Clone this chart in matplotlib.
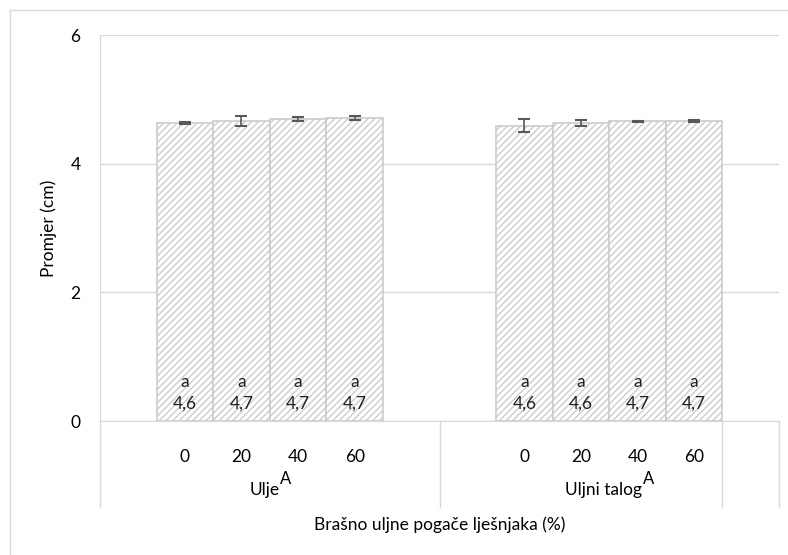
import numpy as np
import matplotlib
matplotlib.use('Agg')
import matplotlib.pyplot as plt
from matplotlib.lines import Line2D

plt.rcParams['font.family'] = ['Lato', 'DejaVu Sans']
plt.rcParams['hatch.linewidth'] = 1.0

# data
doses = ['0', '20', '40', '60']
groups = ['Ulje', 'Uljni talog']
ulje = [4.63, 4.66, 4.69, 4.71]
ulje_err = [0.01, 0.08, 0.03, 0.025]
talog = [4.59, 4.63, 4.66, 4.665]
talog_err = [0.10, 0.045, 0.01, 0.01]
letters_ulje = ['a', 'a', 'a', 'a']
letters_talog = ['a', 'a', 'a', 'a']

grid_c = '#D9D9D9'
edge_c = '#CCCCCC'

fig = plt.figure(figsize=(7.88, 5.55), dpi=100)
ax = fig.add_axes([100/788, 1 - 421/555, (779-100)/788, (421-35)/555])

x1 = np.arange(1, 5)
x2 = np.arange(7, 11)
for xs, vals, errs, lets in [(x1, ulje, ulje_err, letters_ulje),
                             (x2, talog, talog_err, letters_talog)]:
    ax.bar(xs, vals, width=1.0, color='white', edgecolor=edge_c,
           hatch='/////', linewidth=1.2, zorder=2)
    ax.errorbar(xs, vals, yerr=errs, fmt='none', ecolor='#595959',
                elinewidth=1.2, capsize=4.5, capthick=1.5, zorder=3)
    for x, v, l in zip(xs, vals, lets):
        lab = f'{v:.1f}'.replace('.', ',')
        ax.annotate(f'{l}\n{lab}', (x, 0), xytext=(0, 7), textcoords='offset points',
                    ha='center', va='bottom', fontsize=12.5, linespacing=1.4,
                    color='#222222', zorder=4)

ax.set_xlim(-0.5, 11.5)
ax.set_ylim(0, 6)
ax.set_yticks([0, 2, 4, 6])
ax.set_yticklabels(['0', '2', '4', '6'], fontsize=12.5)
ax.yaxis.grid(True, color=grid_c, linewidth=1)
ax.set_axisbelow(True)
ax.tick_params(axis='y', length=0, pad=14)
ax.set_xticks(list(x1) + list(x2))
ax.set_xticklabels(doses + doses, fontsize=12.5)
ax.tick_params(axis='x', length=0, pad=20)
for s in ['top', 'right']:
    ax.spines[s].set_visible(False)
ax.spines['left'].set_color(grid_c)
ax.spines['bottom'].set_color(grid_c)

ax.set_ylabel('Promjer (cm)', fontsize=12.5, labelpad=10)

# multi-level category axis
trans = ax.get_xaxis_transform()
ylow = -(507 - 421) / 386
for xb in [-0.5, 5.5, 10.5, 11.5]:
    ax.add_line(Line2D([xb, xb], [0, ylow], transform=trans, color=grid_c,
                       linewidth=1, clip_on=False))
fig.canvas.draw()
rend = fig.canvas.get_renderer()
for xc, g in zip([2.5, 8.5], groups):
    t = ax.annotate(g, (xc, -(490 - 421) / 386), xycoords=trans, xytext=(-4, 0),
                    textcoords='offset points', ha='center', va='center', fontsize=12.5)
    bb = t.get_window_extent(rend)
    ax.annotate('A', (bb.x1, (bb.y0 + bb.y1) / 2), xycoords='figure pixels', xytext=(0.5, 8),
                textcoords='offset points', ha='left', va='center', fontsize=12)
ax.text(5.5, -(525 - 421) / 386, 'Brašno uljne pogače lješnjaka (%)', transform=trans,
        ha='center', va='center', fontsize=12.5)

# outer chart border (only top and left visible)
fig.add_artist(Line2D([10/788, 1], [1 - 10/555, 1 - 10/555], color=grid_c, linewidth=1))
fig.add_artist(Line2D([10/788, 10/788], [0, 1 - 10/555], color=grid_c, linewidth=1))

fig.savefig('out.png', dpi=100)
